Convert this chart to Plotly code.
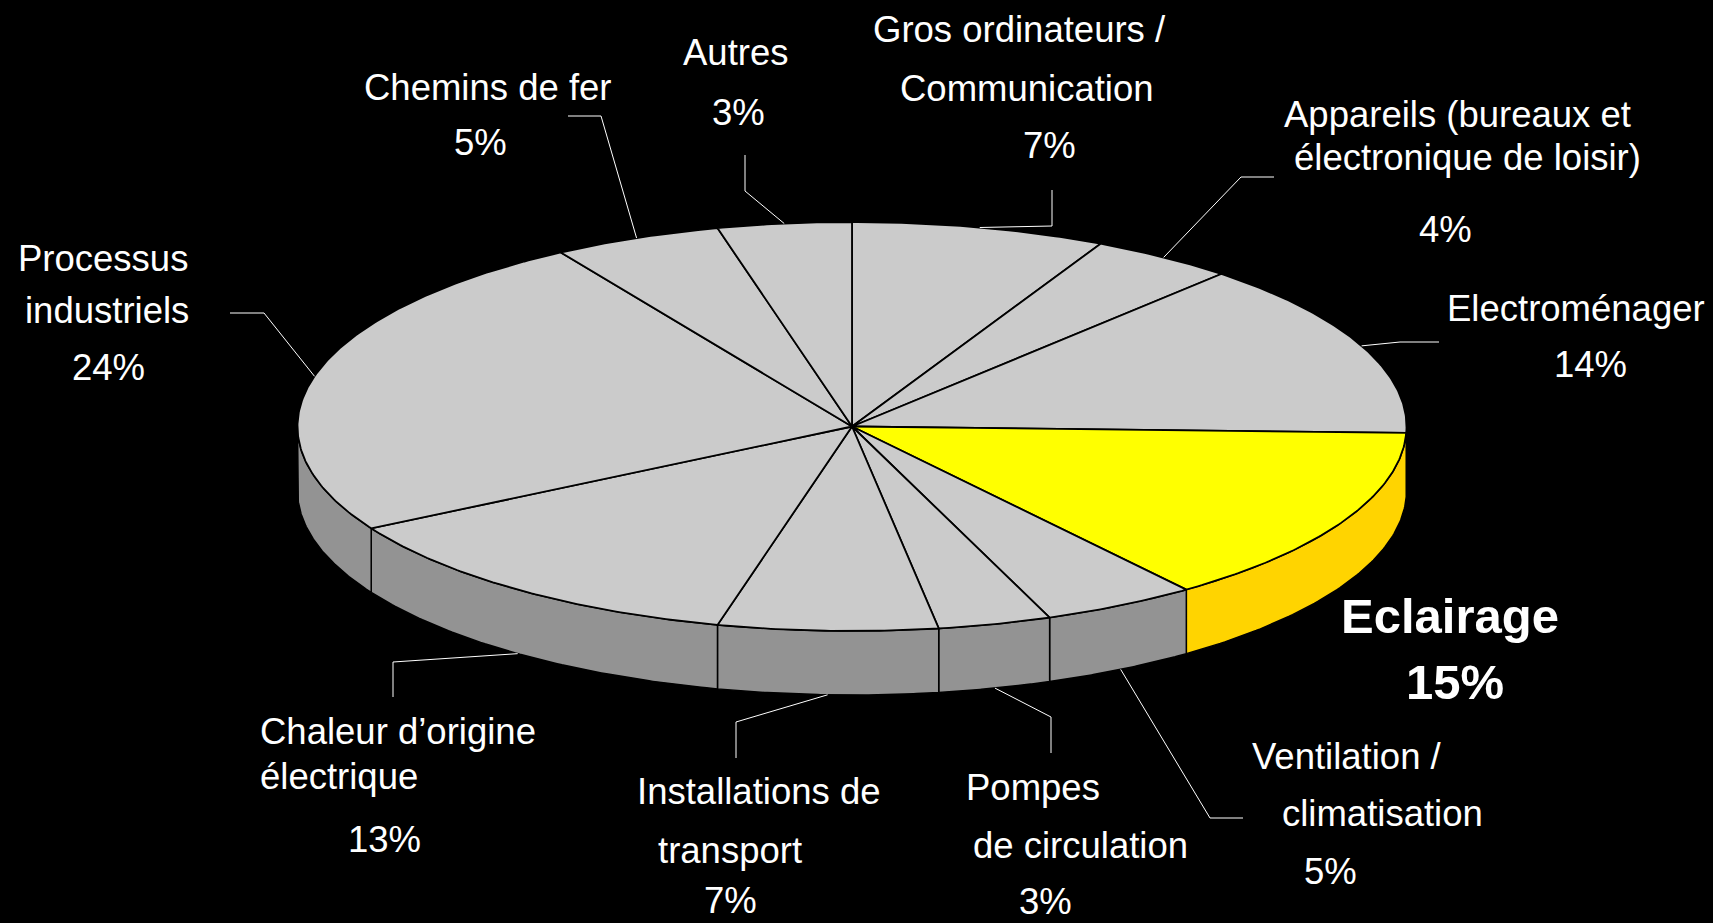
import numpy as np
import plotly.graph_objects as go

# ---------------- data ----------------
name_lines = [
    ["Gros ordinateurs /", "Communication"],
    ["Appareils (bureaux et", "électronique de loisir)"],
    ["Electroménager"],
    ["Eclairage"],
    ["Ventilation /", "climatisation"],
    ["Pompes", "de circulation"],
    ["Installations de", "transport"],
    ["Chaleur d’origine", "électrique"],
    ["Processus", "industriels"],
    ["Chemins de fer"],
    ["Autres"],
]
categories = [" ".join(n) for n in name_lines]
# slice sizes (percent), clockwise from 12 o'clock
shares = [7.4, 4.2, 13.9, 14.2, 4.5, 3.3, 6.4, 12.8, 24.5, 4.9, 3.9]
pct_labels = ["7%", "4%", "14%", "15%", "5%", "3%", "7%", "13%", "24%", "5%", "3%"]
highlight = "Eclairage"

# ---------------- layout / style ----------------
W, H = 1713, 923
CX, CY, RX, RY, DEPTH = 852, 426.5, 554.5, 204.5, 64
TOP_GREY, SIDE_GREY = "#CBCBCB", "#939393"
TOP_HI, SIDE_HI = "#FFFF00", "#FFD400"
FONT = "Arial, Liberation Sans, sans-serif"

# text line centres for each label (name lines + percent line)
label_pos = [
    [(1019, 29), (1027, 88), (1049, 145)],
    [(1457, 114), (1467, 157), (1445, 229)],
    [(1576, 308), (1590, 364)],
    [(1450, 616), (1455, 682)],
    [(1347, 756), (1382, 813), (1330, 871)],
    [(1033, 787), (1080, 845), (1045, 901)],
    [(759, 791), (730, 850), (730, 900)],
    [(398, 731), (339, 776), (384, 839)],
    [(103, 258), (107, 310), (108, 367)],
    [(488, 87), (480, 142)],
    [(736, 52), (738, 112)],
]
# leader line bends (elbow, end) for each label; None = no leader
leader_pts = [
    [(1052, 226), (1052, 190)],
    [(1241, 177), (1274, 177)],
    [(1400, 342), (1439, 342)],
    None,
    [(1210, 818), (1243, 818)],
    [(1051, 717), (1051, 753)],
    [(736, 722), (736, 758)],
    [(393, 662), (393, 697)],
    [(264, 313), (230, 313)],
    [(601, 116), (568, 116)],
    [(745, 191), (745, 155)],
]


def ell(theta_deg, dy=0.0):
    t = np.radians(theta_deg)
    return CX + RX * np.sin(t), CY - RY * np.cos(t) + dy


fig = go.Figure()

total = float(sum(shares))
bounds = np.concatenate([[0.0], np.cumsum(shares) / total * 360.0])

# side faces (front half only)
for i, cat in enumerate(categories):
    a, b = bounds[i], bounds[i + 1]
    lo, hi = max(a, 90.0), min(b, 270.0)
    if lo >= hi:
        continue
    th = np.linspace(lo, hi, 80)
    xt, yt = ell(th)
    xb, yb = ell(th[::-1], DEPTH)
    xs = np.concatenate([xt, xb, xt[:1]])
    ys = np.concatenate([yt, yb, yt[:1]])
    col = SIDE_HI if name_lines[i][0] == highlight else SIDE_GREY
    fig.add_trace(go.Scatter(x=xs, y=ys, mode="lines", fill="toself", fillcolor=col,
                             line=dict(color="black", width=1.5), hoverinfo="skip",
                             showlegend=False))

# top faces
for i, cat in enumerate(categories):
    a, b = bounds[i], bounds[i + 1]
    th = np.linspace(a, b, max(int((b - a) * 2), 10))
    xa, ya = ell(th)
    xs = np.concatenate([[CX], xa, [CX]])
    ys = np.concatenate([[CY], ya, [CY]])
    col = TOP_HI if name_lines[i][0] == highlight else TOP_GREY
    fig.add_trace(go.Scatter(x=xs, y=ys, mode="lines", fill="toself", fillcolor=col,
                             line=dict(color="black", width=1.8), hoverinfo="skip",
                             showlegend=False, name=cat))

# leader lines
for i, cat in enumerate(categories):
    pts = leader_pts[i]
    if pts is None:
        continue
    mid = (bounds[i] + bounds[i + 1]) / 2
    dy = DEPTH if 90 < mid < 270 else 0
    ax, ay = ell(mid, dy)
    xs = [ax] + [p[0] for p in pts]
    ys = [ay] + [p[1] for p in pts]
    fig.add_trace(go.Scatter(x=xs, y=ys, mode="lines", line=dict(color="white", width=1),
                             hoverinfo="skip", showlegend=False))

# labels
annotations = []
for i, cat in enumerate(categories):
    lines = name_lines[i] + [pct_labels[i]]
    bold = name_lines[i][0] == highlight
    for txt, (x, y) in zip(lines, label_pos[i]):
        annotations.append(dict(
            x=x, y=y, xref="x", yref="y", text=f"<b>{txt}</b>" if bold else txt,
            showarrow=False, xanchor="center", yanchor="middle",
            font=dict(family=FONT, size=49 if bold else 36.5, color="white")))

fig.update_layout(
    width=W, height=H, margin=dict(l=0, r=0, t=0, b=0),
    paper_bgcolor="black", plot_bgcolor="black",
    xaxis=dict(range=[0, W], visible=False, fixedrange=True),
    yaxis=dict(range=[H, 0], visible=False, fixedrange=True),
    annotations=annotations, showlegend=False,
)

fig.write_html("out.html", config={"displayModeBar": False},
               post_script="document.body.style.margin='0';document.body.style.overflow='hidden';")
